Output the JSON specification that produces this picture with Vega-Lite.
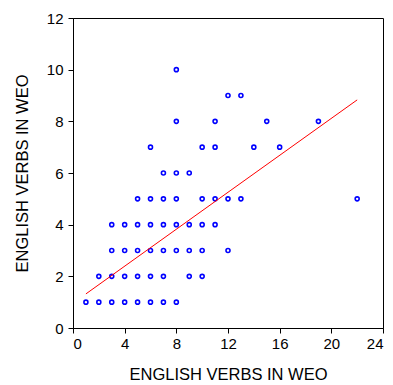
{
  "$schema": "https://vega.github.io/schema/vega-lite/v6.json",
  "width": 310,
  "height": 310,
  "autosize": {"type": "none"},
  "padding": {"left": 73, "top": 18, "right": 10, "bottom": 57},
  "background": "white",
  "config": {
    "font": "Liberation Sans",
    "view": {"stroke": "black", "strokeWidth": 1},
    "axis": {
      "grid": false,
      "domain": true,
      "domainColor": "black",
      "tickColor": "black",
      "tickSize": 5,
      "labelColor": "black",
      "titleColor": "black",
      "labelFont": "Liberation Sans",
      "titleFont": "Liberation Sans",
      "labelFontSize": 15,
      "titleFontSize": 16.5,
      "titleFontWeight": "normal"
    }
  },
  "datasets": {
    "pts": [
      {"x": 1, "y": 1}, {"x": 2, "y": 1}, {"x": 3, "y": 1}, {"x": 4, "y": 1}, {"x": 5, "y": 1}, {"x": 6, "y": 1}, {"x": 7, "y": 1}, {"x": 8, "y": 1},
      {"x": 2, "y": 2}, {"x": 3, "y": 2}, {"x": 4, "y": 2}, {"x": 5, "y": 2}, {"x": 6, "y": 2}, {"x": 7, "y": 2}, {"x": 9, "y": 2}, {"x": 10, "y": 2},
      {"x": 3, "y": 3}, {"x": 4, "y": 3}, {"x": 5, "y": 3}, {"x": 6, "y": 3}, {"x": 7, "y": 3}, {"x": 8, "y": 3}, {"x": 9, "y": 3}, {"x": 10, "y": 3}, {"x": 12, "y": 3},
      {"x": 3, "y": 4}, {"x": 4, "y": 4}, {"x": 5, "y": 4}, {"x": 6, "y": 4}, {"x": 7, "y": 4}, {"x": 8, "y": 4}, {"x": 9, "y": 4}, {"x": 10, "y": 4}, {"x": 11, "y": 4},
      {"x": 5, "y": 5}, {"x": 6, "y": 5}, {"x": 7, "y": 5}, {"x": 8, "y": 5}, {"x": 10, "y": 5}, {"x": 11, "y": 5}, {"x": 12, "y": 5}, {"x": 13, "y": 5}, {"x": 22, "y": 5},
      {"x": 7, "y": 6}, {"x": 8, "y": 6}, {"x": 9, "y": 6},
      {"x": 6, "y": 7}, {"x": 10, "y": 7}, {"x": 11, "y": 7}, {"x": 14, "y": 7}, {"x": 16, "y": 7},
      {"x": 8, "y": 8}, {"x": 11, "y": 8}, {"x": 15, "y": 8}, {"x": 19, "y": 8},
      {"x": 12, "y": 9}, {"x": 13, "y": 9},
      {"x": 8, "y": 10}
    ],
    "fit": [
      {"x": 1, "y": 1.32},
      {"x": 22, "y": 8.83}
    ]
  },
  "layer": [
    {
      "data": {"name": "pts"},
      "mark": {"type": "point", "shape": "circle", "filled": false, "color": "#0000ff", "size": 16, "strokeWidth": 1.6, "opacity": 1},
      "encoding": {
        "x": {"field": "x", "type": "quantitative", "scale": {"domain": [0, 24], "nice": false, "zero": false},
              "axis": {"values": [0, 4, 8, 12, 16, 20, 24], "title": "ENGLISH VERBS IN WEO", "labelPadding": 3, "titlePadding": 15}},
        "y": {"field": "y", "type": "quantitative", "scale": {"domain": [0, 12], "nice": false, "zero": false},
              "axis": {"values": [0, 2, 4, 6, 8, 10, 12], "title": "ENGLISH VERBS IN WEO", "labelPadding": 5, "titlePadding": 16}}
      }
    },
    {
      "data": {"name": "fit"},
      "mark": {"type": "line", "color": "#ff0000", "strokeWidth": 1},
      "encoding": {
        "x": {"field": "x", "type": "quantitative"},
        "y": {"field": "y", "type": "quantitative"}
      }
    }
  ]
}
